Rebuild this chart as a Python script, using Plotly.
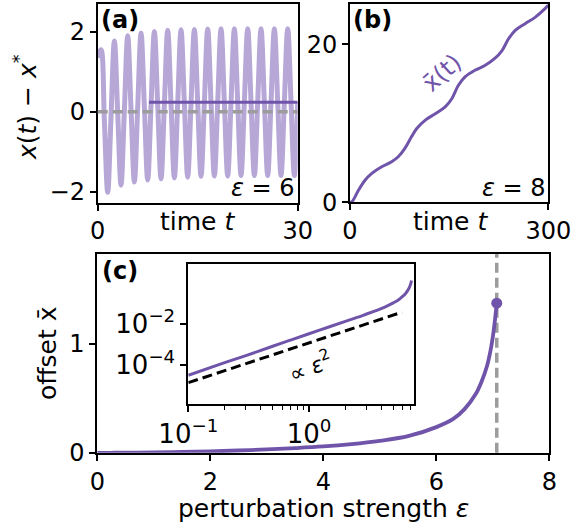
import plotly.graph_objects as go

# ---------------- data ----------------
# panel (a): x(t) - x* for eps = 6
T_A = [0, 0.5, 1, 1.5, 2, 2.5, 3, 3.5, 4, 4.5, 5, 5.5, 6, 6.5, 7, 7.5, 8, 8.5, 9, 9.5,
       10, 10.5, 11, 11.5, 12, 12.5, 13, 13.5, 14, 14.5, 15, 15.5, 16, 16.5, 17, 17.5,
       18, 18.5, 19, 19.5, 20, 20.5, 21, 21.5, 22, 22.5, 23, 23.5, 24, 24.5, 25, 25.5,
       26, 26.5, 27, 27.5, 28, 28.5, 29, 29.5, 30]
X_A = [1.35, 1.55, -0.23, -2.02, -0.12, 1.77, -0.03, -1.84, 0.03, 1.90, 0.07, -1.76,
       0.11, 1.97, 0.13, -1.71, 0.15, 2.01, 0.17, -1.68, 0.18, 2.04, 0.19, -1.66,
       0.20, 2.05, 0.21, -1.64, 0.21, 2.06, 0.22, -1.62, 0.22, 2.07, 0.23, -1.61,
       0.23, 2.08, 0.23, -1.61, 0.23, 2.08, 0.23, -1.60, 0.24, 2.08, 0.24, -1.60,
       0.24, 2.08, 0.24, -1.60, 0.24, 2.08, 0.24, -1.60, 0.24, 2.08, 0.24, -1.60, 0.24]
XBAR_START_T = 7.7

# panel (b): running mean for eps = 8
T_B = [0, 3, 13, 23, 33, 48, 63, 73, 83, 93, 101, 114, 129, 144, 154, 164, 174, 189,
       204, 219, 230, 240, 250, 265, 280, 295, 300]
X_B = [0, 0.08, 1.55, 2.82, 3.66, 4.5, 5.13, 5.76, 6.82, 8.28, 9.34, 10.4, 11.2, 12.07,
       13.1, 14.8, 15.86, 16.7, 17.3, 18.2, 19.2, 20.7, 21.75, 22.6, 23.4, 24.5, 24.95]

# panel (c): offset vs perturbation strength
EPS = [0, 0.1, 0.2, 0.3, 0.5, 0.7, 1.0, 1.5, 2.0, 2.5, 3.0, 3.5, 4.0, 4.5, 5.0, 5.5,
       6.0, 6.3, 6.5, 6.7, 6.8, 6.9, 6.95, 7.0, 7.03, 7.05, 7.07]
OFFSET = [0, 3.0e-5, 1.25e-4, 2.8e-4, 8.0e-4, 1.6e-3, 3.3e-3, 7.5e-3, 0.0135, 0.021,
          0.031, 0.043, 0.058, 0.080, 0.110, 0.152, 0.235, 0.31, 0.40, 0.54, 0.65,
          0.80, 0.91, 1.06, 1.18, 1.27, 1.37]
EPS_FIT = [0.1, 5.9]
FIT = [1.3e-5, 0.038]

X_TICKS_A = [0, 30]
Y_TICKS_A = [-2, 0, 2]
X_TICKS_B = [0, 300]
Y_TICKS_B = [0, 20]
X_TICKS_C = [0, 2, 4, 6, 8]
Y_TICKS_C = [0, 1]
INSET_X_TICKS = [0.1, 1]
INSET_X_LABELS = ["10<sup>−1</sup>", "10<sup>0</sup>"]
INSET_X_MINOR = [0.2, 0.3, 0.4, 0.5, 0.6, 0.7, 0.8, 0.9, 2, 3, 4, 5, 6, 7]
INSET_Y_TICKS = [1e-4, 1e-2]
INSET_Y_LABELS = ["10<sup>−4</sup>", "10<sup>−2</sup>"]

# ---------------- style ----------------
W, H = 574, 530
FONT = "DejaVu Sans"
PURPLE = "#7054aa"
LIGHT = "#b6a7d7"
GRAY = "#9c9c9c"


def px(x):
    return x / W


def py(y):
    return 1 - y / H


xbar = OFFSET[EPS.index(6.0)]

fig = go.Figure()
# (a)
fig.add_trace(go.Scatter(x=T_A, y=X_A, mode="lines",
                         line=dict(color=LIGHT, width=5, shape="spline"),
                         xaxis="x", yaxis="y", showlegend=False))
fig.add_trace(go.Scatter(x=[XBAR_START_T, T_A[-1]], y=[xbar, xbar], mode="lines",
                         line=dict(color=PURPLE, width=3),
                         xaxis="x", yaxis="y", showlegend=False))
# (b)
fig.add_trace(go.Scatter(x=T_B, y=X_B, mode="lines",
                         line=dict(color=PURPLE, width=3, shape="spline"),
                         xaxis="x2", yaxis="y2", showlegend=False))
# (c)
fig.add_trace(go.Scatter(x=EPS, y=OFFSET, mode="lines",
                         line=dict(color=PURPLE, width=3.8, shape="spline"),
                         xaxis="x3", yaxis="y3", showlegend=False))
fig.add_trace(go.Scatter(x=[EPS[-1]], y=[OFFSET[-1]], mode="markers",
                         marker=dict(color=PURPLE, size=11),
                         xaxis="x3", yaxis="y3", showlegend=False, cliponaxis=False))
# inset
fig.add_trace(go.Scatter(x=EPS[1:], y=OFFSET[1:], mode="lines",
                         line=dict(color=PURPLE, width=3, shape="spline"),
                         xaxis="x4", yaxis="y4", showlegend=False))
fig.add_trace(go.Scatter(x=EPS_FIT, y=FIT, mode="lines",
                         line=dict(color="black", width=3, dash="10px,5px"),
                         xaxis="x4", yaxis="y4", showlegend=False))

base = dict(showline=True, linecolor="black", linewidth=1.8, mirror=True,
            ticks="outside", ticklen=6, tickwidth=1.6, tickcolor="black",
            showgrid=False, zeroline=False, automargin=False,
            tickfont=dict(family=FONT, size=24, color="black"))

fig.update_layout(
    width=W, height=H, margin=dict(l=0, r=0, t=0, b=0, autoexpand=False),
    paper_bgcolor="white", plot_bgcolor="white",
    font=dict(family=FONT, size=24, color="black"),
    xaxis=dict(base, domain=[px(97.7), px(297.7)], range=[0, 30],
               tickvals=X_TICKS_A, anchor="y"),
    yaxis=dict(base, domain=[py(202.7), py(4.3)], range=[-2.28, 2.69],
               tickvals=Y_TICKS_A, anchor="x"),
    yaxis5=dict(overlaying="y", side="right", anchor="x", range=[-2.28, 2.69],
                showline=False, showgrid=False, zeroline=False, automargin=False,
                ticks="outside", ticklen=6, tickwidth=1.6, tickcolor="black",
                tickvals=[xbar], ticktext=["x̄"],
                tickfont=dict(family=FONT, size=24, color=PURPLE)),
    xaxis2=dict(base, domain=[px(350), px(548.3)], range=[0, 300],
                tickvals=X_TICKS_B, anchor="y2"),
    yaxis2=dict(base, domain=[py(202.3), py(4.3)], range=[0, 25.05],
                tickvals=Y_TICKS_B, anchor="x2"),
    xaxis3=dict(base, domain=[px(97.3), px(549.3)], range=[0, 8],
                tickvals=X_TICKS_C, anchor="y3"),
    yaxis3=dict(base, domain=[py(452.8), py(254)], range=[0, 1.82],
                tickvals=Y_TICKS_C, anchor="x3"),
    xaxis4=dict(base, type="log", domain=[px(188.3), px(414)], range=[-1, 0.87],
                tickvals=INSET_X_TICKS, ticktext=INSET_X_LABELS, anchor="y4",
                tickfont=dict(family=FONT, size=26, color="black"),
                minor=dict(tickvals=INSET_X_MINOR, ticks="outside", ticklen=4,
                           tickwidth=1.3, tickcolor="black", showgrid=False)),
    yaxis4=dict(base, type="log", domain=[py(403.7), py(264)], range=[-5.92, 0.95],
                tickvals=INSET_Y_TICKS, ticktext=INSET_Y_LABELS, anchor="x4",
                tickfont=dict(family=FONT, size=26, color="black")),
)

fig.add_shape(type="line", xref="x domain", yref="y", x0=0, x1=1, y0=0, y1=0,
              line=dict(color=GRAY, width=3.5, dash="10px,5px"), layer="above")
fig.add_shape(type="line", xref="x3", yref="y3 domain", x0=EPS[-1], x1=EPS[-1],
              y0=0, y1=1, line=dict(color=GRAY, width=3.5, dash="10px,5px"),
              layer="below")


def ann(text, x, y, xa="center", ya="middle", size=24, color="black", angle=0):
    fig.add_annotation(text=text, x=px(x), y=py(y), xref="paper", yref="paper",
                       xanchor=xa, yanchor=ya, showarrow=False, textangle=angle,
                       font=dict(family=FONT, size=size, color=color))


ann("<b>(a)</b>", 99, 4, "left", "top")
ann("<b>(b)</b>", 351, 4, "left", "top")
ann("<b>(c)</b>", 100, 255, "left", "top")
ann("<i>ε</i> = 6", 297, 204, "right", "bottom")
ann("<i>ε</i> = 8", 548, 204, "right", "bottom")
ann("time <i>t</i>", 197.5, 221, size=25)
ann("time <i>t</i>", 450, 221, size=25)
ann("<i>x</i>(<i>t</i>) − <i>x</i><sup>*</sup>", 25, 107, angle=-90, size=25)
ann("offset x̄", 47, 353, angle=-90, size=25)
ann("perturbation strength <i>ε</i>", 323, 508, size=25)
ann("∝ <i>ε</i><sup>2</sup>", 310, 366, size=22, angle=-22)
ann("x̄(t)", 442, 73, size=24, color=PURPLE, angle=-42)

fig.write_html("out.html",
               config={"displayModeBar": False},
               post_script="document.body.style.margin='0px';"
                           "document.body.style.overflow='hidden';")
